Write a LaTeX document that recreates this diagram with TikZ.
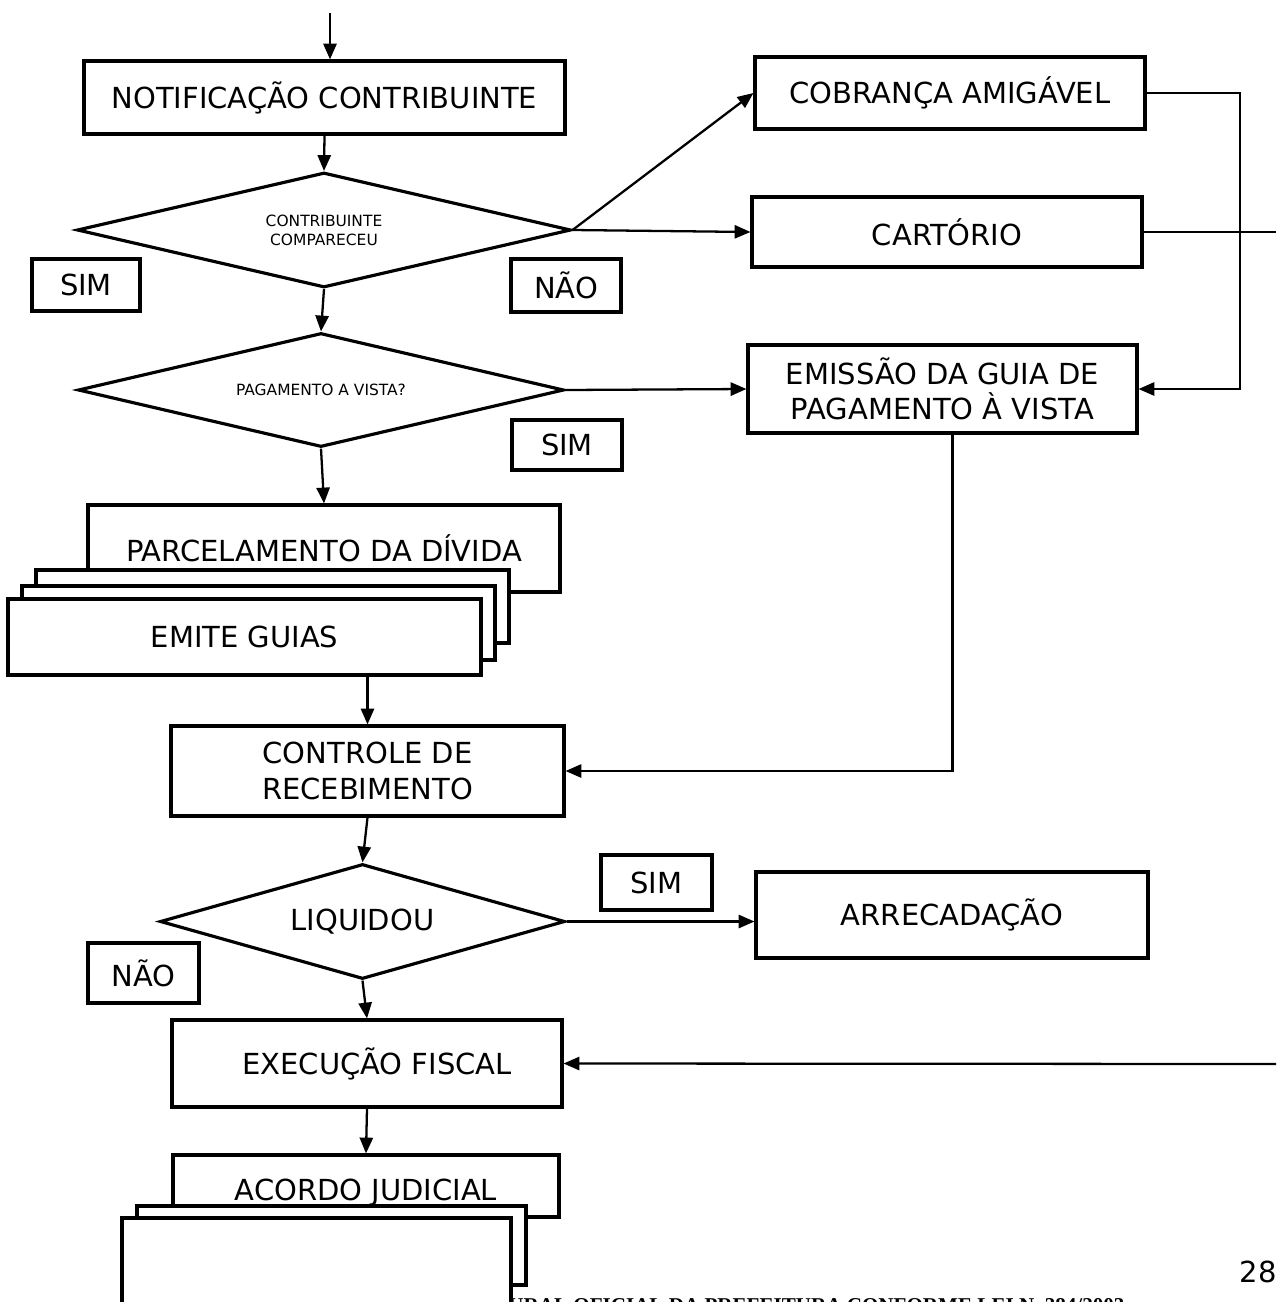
\documentclass[tikz,border=0pt]{standalone}
\usepackage{fontspec}
\setmainfont{DejaVu Sans}
\newfontfamily\rodapefont{Liberation Serif}
\usetikzlibrary{shapes.geometric,arrows.meta}

\newcommand{\textogrande}{\fontsize{16.5}{20}\selectfont}
\newcommand{\textopequeno}{\fontsize{8.8}{10.8}\selectfont}
\newcommand{\textorodape}{\rodapefont\bfseries\fontsize{12}{14}\selectfont}

\tikzset{
    caixa/.style={draw, line width=1.8pt, fill=white, inner sep=0pt, align=center, font=\textogrande},
    decisao/.style={diamond, draw, line width=1.8pt, fill=white, inner sep=0pt, aspect=4, align=center},
    rotulo/.style={draw, line width=1.8pt, fill=white, inner sep=0pt, font=\textogrande},
    seta/.style={line width=1.3pt, -{Triangle[length=9pt,width=7.5pt]}},
    linha/.style={line width=1.3pt},
    txt/.style={font=\textogrande}
}

\begin{document}
\begin{tikzpicture}[x=0.02cm, y=-0.02cm]
    \useasboundingbox (0,0) rectangle (1276,1302);
    \clip (0,0) rectangle (1276,1302);

    % coluna principal
    \node[caixa, minimum width=9.62cm, minimum height=1.46cm] (notificacao) at (324.5,97.5) {NOTIFICAÇÃO CONTRIBUINTE};
    \node[decisao, minimum width=9.88cm, minimum height=2.3cm, font=\textopequeno] (comparecimento) at (324,230) {CONTRIBUINTE\\COMPARECEU};
    \node[rotulo, minimum width=2.16cm, minimum height=1.04cm] (simA) at (86,285) {SIM};
    \node[rotulo, minimum width=2.2cm, minimum height=1.06cm] (naoA) at (566,285.5) {NÃO};
    \node[decisao, minimum width=9.72cm, minimum height=2.28cm, font=\textopequeno] (pagamento) at (321,390) {PAGAMENTO A VISTA?};
    \node[rotulo, minimum width=2.2cm, minimum height=1cm] (simB) at (567,445) {SIM};
    \node[caixa, minimum width=9.44cm, minimum height=1.74cm] (parcelamento) at (324,548.5) {PARCELAMENTO DA DÍVIDA};
    \node[caixa, minimum width=9.46cm, minimum height=1.46cm] (guiaA) at (272.5,606.5) {};
    \node[caixa, minimum width=9.46cm, minimum height=1.48cm] (guiaB) at (258.5,623) {};
    \node[caixa, minimum width=9.46cm, minimum height=1.52cm] (emite) at (244.5,637) {EMITE GUIAS};
    \node[caixa, minimum width=7.86cm, minimum height=1.8cm] (controle) at (367.5,771) {CONTROLE DE\\RECEBIMENTO};
    \node[decisao, minimum width=8.1cm, minimum height=2.3cm, font=\textogrande] (liquidou) at (362.5,921.5) {LIQUIDOU};
    \node[rotulo, minimum width=2.22cm, minimum height=1.1cm] (simC) at (656.5,882.5) {SIM};
    \node[rotulo, minimum width=2.22cm, minimum height=1.2cm] (naoC) at (143.5,973) {NÃO};
    \node[caixa, minimum width=7.84cm, minimum height=1.72cm] (arrecadacao) at (952,915) {ARRECADAÇÃO};
    \node[caixa, minimum width=7.8cm, minimum height=1.74cm, label={[txt, xshift=0.2cm]center:EXECUÇÃO FISCAL}] (execucao) at (367,1063.5) {};

    % rodape da pagina
    \node[anchor=base west, inner sep=0pt, font=\textorodape] (rodape) at (508,1312) {URAL OFICIAL DA PREFEITURA CONFORME LEI N. 384/2003};
    \node[txt] (pagina) at (1258,1272) {28};

    \node[caixa, minimum width=7.72cm, minimum height=1.24cm, label={[txt, yshift=-0.14cm]center:ACORDO JUDICIAL}] (acordo) at (366,1186) {};
    \node[caixa, minimum width=7.78cm, minimum height=1.58cm] (juntadaA) at (331.5,1245.5) {};
    \node[caixa, minimum width=7.78cm, minimum height=2.44cm] (juntadaB) at (316.5,1279) {};

    % coluna da direita
    \node[caixa, minimum width=7.8cm, minimum height=1.44cm] (cobranca) at (950,93) {COBRANÇA AMIGÁVEL};
    \node[caixa, minimum width=7.8cm, minimum height=1.4cm] (cartorio) at (947,232) {CARTÓRIO};
    \node[caixa, minimum width=7.78cm, minimum height=1.76cm] (emissao) at (942.5,389) {EMISSÃO DA GUIA DE\\PAGAMENTO À VISTA};

    \coordinate (inicio) at (330,13);
    \coordinate (retorno) at (1240,389);
    \coordinate (saida) at (1276,232);
    \coordinate (entrada) at (1276,1064);

    % ligacoes
    \draw[seta] (inicio) -- (inicio |- notificacao.north);
    \draw[seta] (notificacao.south) -- (comparecimento.north);
    \draw[seta] (comparecimento.south) -- (pagamento.north);
    \draw[seta] (pagamento.south) -- (parcelamento.north);
    \draw[seta] (comparecimento.east) -- (cobranca.west);
    \draw[seta] (comparecimento.east) -- (cartorio.west);
    \draw[seta] (pagamento.east) -- (emissao.west);
    \draw[seta] (cobranca.east) -| (retorno) -- (emissao.east);
    \draw[linha] (cartorio.east) -- (saida);
    \draw[seta] ([xshift=0.2cm]emissao.south) |- (controle.east);
    \draw[seta] (controle.north |- emite.south) -- (controle.north);
    \draw[seta] (controle.south) -- (liquidou.north);
    \draw[seta] (liquidou.east) -- (liquidou.east -| arrecadacao.west);
    \draw[seta] (liquidou.south) -- (execucao.north);
    \draw[seta] (entrada) -- (execucao.east);
    \draw[seta] (execucao.south) -- (acordo.north);
\end{tikzpicture}
\end{document}
